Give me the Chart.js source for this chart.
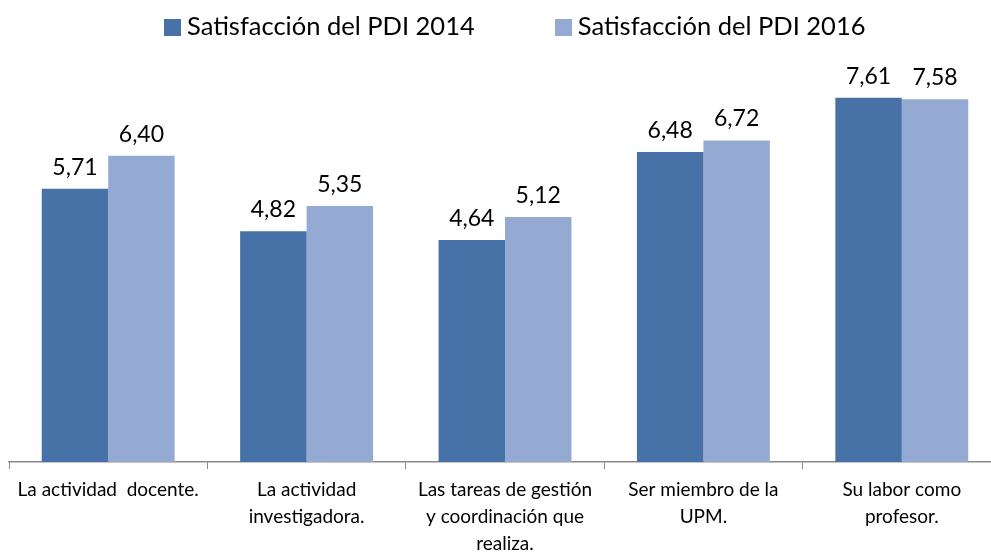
<!DOCTYPE html>
<html>
<head>
<meta charset="utf-8">
<script src="https://cdn.jsdelivr.net/npm/chart.js@4"></script>
<style>
  body { margin: 0; overflow: hidden; background: #fff; font-family: Lato, sans-serif; }
  #wrap { position: relative; width: 1001px; height: 556px; }
  #legend { position: absolute; top: 10px; left: 164px; font-size: 25.5px; color: #000; white-space: nowrap; }
  #legend span.box { display: inline-block; width: 17px; height: 17px; margin-right: 6px; vertical-align: -1px; }
  #legend span.item { margin-right: 80px; }
</style>
</head>
<body>
<div id="wrap">
  <div id="legend"></div>
  <canvas id="chart" width="1001" height="556"></canvas>
</div>
<script>
// categories and values
const categories = [
    'La actividad  docente.',
    ['La actividad', 'investigadora.'],
    ['Las tareas de gestión', 'y coordinación que', 'realiza.'],
    ['Ser miembro de la', 'UPM.'],
    ['Su labor como', 'profesor.']
];
const seriesNames = ['Satisfacción del PDI 2014', 'Satisfacción del PDI 2016'];
const values2014 = [5.71, 4.82, 4.64, 6.48, 7.61];
const values2016 = [6.40, 5.35, 5.12, 6.72, 7.58];
const colors = ['#4672A8', '#95AAD2'];

// html legend
const legendEl = document.getElementById('legend');
seriesNames.forEach((name, i) => {
    legendEl.innerHTML += `<span class="item"><span class="box" style="background:${colors[i]}"></span>${name}</span>`;
});

// values over bars, comma as decimal separator
const barLabels = {
    id: 'barLabels',
    afterDatasetsDraw(chart) {
        const ctx = chart.ctx;
        ctx.save();
        ctx.font = '23px Lato, sans-serif';
        ctx.fillStyle = '#000';
        ctx.textAlign = 'center';
        ctx.textBaseline = 'alphabetic';
        chart.data.datasets.forEach((ds, i) => {
            chart.getDatasetMeta(i).data.forEach((bar, j) => {
                ctx.fillText(ds.data[j].toFixed(2).replace('.', ','), bar.x, bar.y - 14);
            });
        });
        ctx.restore();
    }
};

new Chart(document.getElementById('chart'), {
    type: 'bar',
    data: {
        labels: categories,
        datasets: [
            { label: seriesNames[0], data: values2014, backgroundColor: colors[0] },
            { label: seriesNames[1], data: values2016, backgroundColor: colors[1] }
        ]
    },
    options: {
        responsive: false,
        animation: false,
        layout: { padding: { top: 60, left: 9, right: 0, bottom: 0 } },
        datasets: { bar: { barPercentage: 1, categoryPercentage: 0.67 } },
        plugins: { legend: { display: false }, tooltip: { enabled: false } },
        scales: {
            x: {
                grid: { drawOnChartArea: false, tickLength: 7, color: '#898989' },
                border: { color: '#898989', width: 1.5 },
                ticks: { color: '#000', font: { family: 'Lato', size: 19, lineHeight: 1.4 }, maxRotation: 0, padding: 8, autoSkip: false },
                afterFit(scale) { scale.height = 94; }
            },
            y: { display: false, min: 0, max: 8.4 }
        }
    },
    plugins: [barLabels]
});
</script>
</body>
</html>
